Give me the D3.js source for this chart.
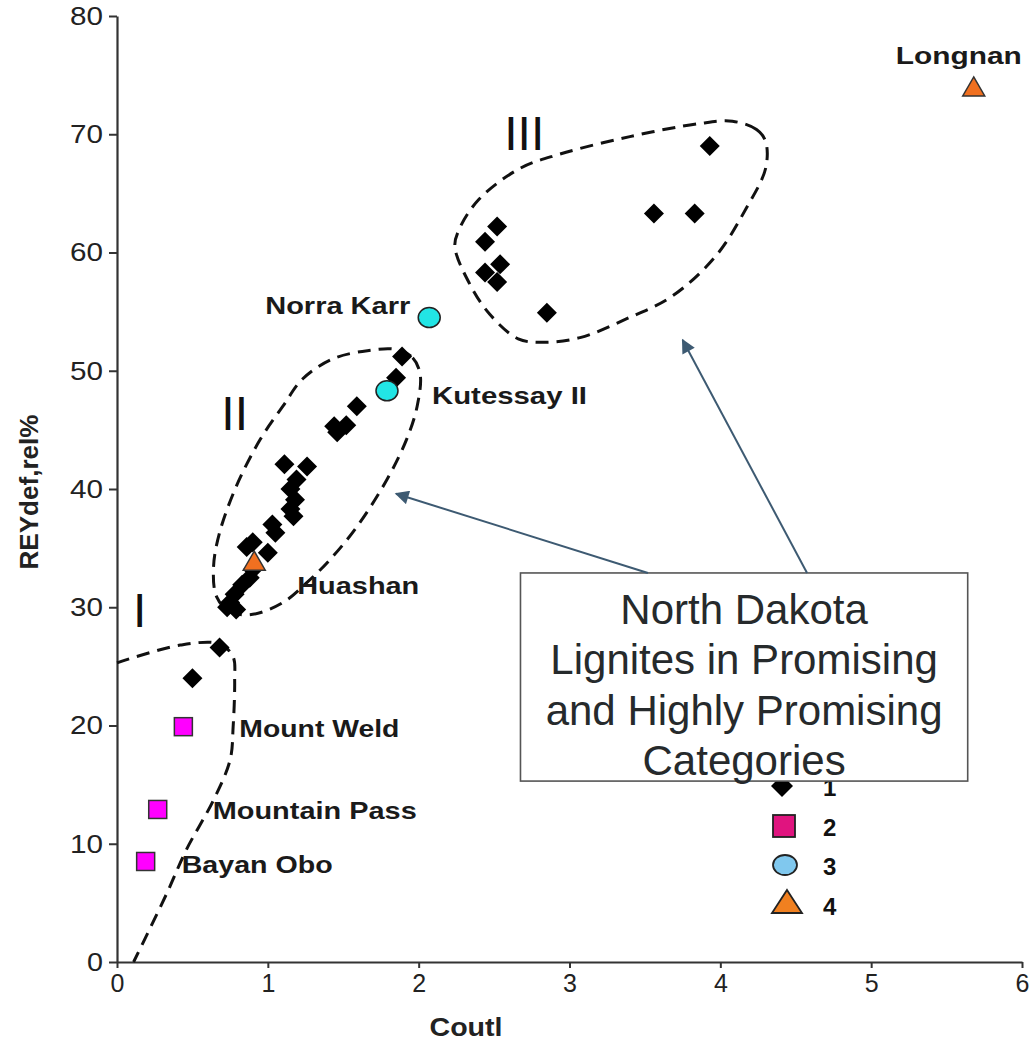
<!DOCTYPE html>
<html><head><meta charset="utf-8">
<script src="https://cdn.jsdelivr.net/npm/d3@7"></script>
<style>body{margin:0;background:#fff}svg{display:block}text{font-family:"Liberation Sans",Arial,sans-serif}</style>
</head><body><svg id="c" width="1035" height="1042"></svg>
<script>
// ---- data ----
const xTicks = [0,1,2,3,4,5,6];
const yTicks = [0,10,20,30,40,50,60,70,80];
// group 1: North Dakota lignites (diamonds)
const lignX = [3.93,3.56,3.83,2.44,2.52,2.44,2.54,2.52,2.85,
  1.89,1.85,1.59,1.52,1.46,1.44,1.11,1.26,1.19,1.15,1.18,1.15,1.17,1.03,1.05,0.90,0.86,1.00,0.90,0.88,0.83,0.78,0.75,0.79,0.73,
  0.68,0.50];
const lignY = [69.0,63.3,63.3,60.9,62.2,58.3,59.0,57.5,54.9,
  51.2,49.4,47.0,45.4,44.8,45.3,42.1,41.9,40.8,40.0,39.1,38.3,37.7,37.0,36.3,35.5,35.1,34.6,33.2,32.5,31.9,31.1,30.4,29.8,30.0,
  26.6,24.0];
// group 2: squares
const sqNames = ["Mount Weld","Mountain Pass","Bayan Obo"];
const sqX = [0.44,0.27,0.19];
const sqY = [19.9,12.9,8.5];
// group 3: circles
const ciNames = ["Norra Karr","Kutessay II"];
const ciX = [2.07,1.79];
const ciY = [54.5,48.3];
// group 4: triangles
const trNames = ["Longnan","Huashan"];
const trX = [5.68,0.91];
const trY = [74.0,33.9];
// field outlines (data units)
const regIx = [0.0,0.42,0.68,0.77,0.78,0.77,0.75,0.64,0.46,0.33,0.11];
const regIy = [25.3,26.8,26.9,25.8,23.9,19.9,17.1,13.7,9.5,5.8,0];
const regIIx = [1.85,1.96,2.01,1.99,1.92,1.79,1.59,1.41,1.26,1.10,0.90,0.75,0.66,0.64,0.68,0.79,0.95,1.10,1.23,1.43,1.66];
const regIIy = [51.8,51.1,49.7,47.0,44.2,40.8,36.8,34.0,32.1,30.4,29.4,29.6,30.9,33.4,36.3,40.2,44.2,47.0,49.3,51.0,51.7];
const regIIIx = [4.08,4.24,4.30,4.30,4.17,3.97,3.68,3.38,3.07,2.83,2.66,2.47,2.34,2.24,2.27,2.40,2.67,2.93,3.40,3.86];
const regIIIy = [71.1,70.4,69.4,67.1,63.7,59.7,56.3,54.4,52.8,52.4,52.7,54.8,57.3,60.5,62.0,64.5,67.1,68.3,69.8,70.9];
const romanLabels = ["I","II","III"];
const romanX = [0.15,0.78,2.7];
const romanY = [28.3,45.0,68.7];
const legendLabels = ["1","2","3","4"];
const boxLines = ["North Dakota","Lignites in Promising","and Highly Promising","Categories"];

// ---- scales ----
const svg = d3.select("#c");
const x = d3.scaleLinear().domain([0,6]).range([117,1022]);
const y = d3.scaleLinear().domain([0,80]).range([962,16]);

// axes
const xAx = svg.append("g").attr("transform","translate(0,962)")
  .call(d3.axisBottom(x).tickValues(xTicks).tickFormat(d3.format("d")).tickSize(6).tickSizeOuter(0).tickPadding(6));
xAx.selectAll("text").attr("font-size",25).attr("fill","#222").attr("font-family","Liberation Sans, Arial");
const yAx = svg.append("g").attr("transform","translate(117,0)")
  .call(d3.axisLeft(y).tickValues(yTicks).tickSize(8).tickSizeOuter(0).tickPadding(6));
yAx.selectAll("text").attr("font-size",26).attr("fill","#222").attr("font-family","Liberation Sans, Arial")
  .attr("textLength",d=>d>=10?33:16).attr("lengthAdjust","spacingAndGlyphs");
svg.selectAll(".domain").attr("stroke","#333").attr("stroke-width",2.2);
svg.selectAll(".tick line").attr("stroke","#333").attr("stroke-width",2);

svg.append("text").attr("x",466).attr("y",1036).attr("text-anchor","middle")
  .attr("font-size",25).attr("font-weight","bold").attr("fill","#222")
  .attr("textLength",73).attr("lengthAdjust","spacingAndGlyphs").text("Coutl");
svg.append("text").attr("transform","translate(38,492) rotate(-90)").attr("text-anchor","middle")
  .attr("font-size",25).attr("font-weight","bold").attr("fill","#222")
  .attr("textLength",155).attr("lengthAdjust","spacingAndGlyphs").text("REYdef,rel%");

// outlines
const dash = "13,8";
function outline(xs,ys,curve){
  const pts = xs.map((v,i)=>[x(v),y(ys[i])]);
  svg.append("path").attr("d",d3.line().curve(curve)(pts))
    .attr("fill","none").attr("stroke","#111").attr("stroke-width",3).attr("stroke-dasharray",dash);
}
outline(regIx,regIy,d3.curveCatmullRom.alpha(0.5));
outline(regIIx,regIIy,d3.curveCatmullRomClosed.alpha(0.5));
outline(regIIIx,regIIIy,d3.curveCatmullRomClosed.alpha(0.5));

// roman numerals
svg.selectAll(".rom").data(romanLabels).join("text")
  .attr("x",(d,i)=>x(romanX[i])).attr("y",(d,i)=>y(romanY[i]))
  .attr("text-anchor","middle").attr("font-size",48).attr("fill","#111").text(d=>d);

// symbols
const diamond = s => `M0,${-s}L${s},0L0,${s}L${-s},0Z`;
svg.selectAll(".dia").data(lignX).join("path")
  .attr("transform",(d,i)=>`translate(${x(d)},${y(lignY[i])})`)
  .attr("d",diamond(10)).attr("fill","#000");
svg.selectAll(".sq").data(sqX).join("rect")
  .attr("x",(d,i)=>x(d)-9).attr("y",(d,i)=>y(sqY[i])-9).attr("width",18).attr("height",18)
  .attr("fill","#ff00ff").attr("stroke","#333").attr("stroke-width",1.5);
svg.selectAll(".ci").data(ciX).join("ellipse")
  .attr("cx",d=>x(d)).attr("cy",(d,i)=>y(ciY[i])).attr("rx",11).attr("ry",10)
  .attr("fill","#22e5e5").attr("stroke","#222").attr("stroke-width",1.5);
const tri = "M0,-10L11,9L-11,9Z";
svg.selectAll(".tr").data(trX).join("path")
  .attr("transform",(d,i)=>`translate(${x(d)},${y(trY[i])})`)
  .attr("d",tri).attr("fill","#f07020").attr("stroke","#333").attr("stroke-width",1.5);

// point labels
function label(txt,px,py,len,anchor){
  svg.append("text").attr("x",px).attr("y",py).attr("text-anchor",anchor||"start")
    .attr("font-size",24).attr("font-weight","bold").attr("fill","#1a1a1a")
    .attr("textLength",len).attr("lengthAdjust","spacingAndGlyphs").text(txt);
}
label(trNames[0],x(trX[0])-78,y(trY[0])-23,126);
label(trNames[1],x(trX[1])+43,y(trY[1])+33,122);
label(ciNames[0],x(ciX[0])-164,y(ciY[0])-4,145);
label(ciNames[1],x(ciX[1])+45,y(ciY[1])+13,155);
label(sqNames[0],x(sqX[0])+56,y(sqY[0])+10,160);
label(sqNames[1],x(sqX[1])+55,y(sqY[1])+10,204);
label(sqNames[2],x(sqX[2])+36,y(sqY[2])+12,151);

// legend (partly hidden behind the box)
const legX = 784, legY0 = 786, legDy = 40;
const lg = svg.append("g");
lg.append("path").attr("transform",`translate(${legX-2},${legY0})`).attr("d",diamond(11)).attr("fill","#000");
lg.append("rect").attr("x",legX-11).attr("y",legY0+legDy-11).attr("width",22).attr("height",22)
  .attr("fill","#e0147f").attr("stroke","#222").attr("stroke-width",1.8);
lg.append("ellipse").attr("cx",legX+1).attr("cy",legY0+2*legDy-1).attr("rx",12).attr("ry",10)
  .attr("fill","#80c8ee").attr("stroke","#222").attr("stroke-width",1.8);
lg.append("path").attr("transform",`translate(${legX+3},${legY0+3*legDy-4})`).attr("d","M0,-12L15,11L-15,11Z")
  .attr("fill","#f08020").attr("stroke","#222").attr("stroke-width",1.8);
lg.selectAll("text").data(legendLabels).join("text")
  .attr("x",823).attr("y",(d,i)=>legY0+10+i*legDy-(i>1?1:0)).attr("font-size",24).attr("font-weight","bold")
  .attr("fill","#111").text(d=>d);

// annotation box
const boxX0 = 2.675, boxX1 = 5.64, boxYTop = 32.9, boxYBot = 15.3;
svg.append("rect").attr("x",x(boxX0)).attr("y",y(boxYTop))
  .attr("width",x(boxX1)-x(boxX0)).attr("height",y(boxYBot)-y(boxYTop))
  .attr("fill","#fff").attr("stroke","#555").attr("stroke-width",1.6);
svg.selectAll(".bl").data(boxLines).join("text")
  .attr("x",(x(boxX0)+x(boxX1))/2).attr("y",(d,i)=>y(boxYTop)+51+i*50.5)
  .attr("text-anchor","middle").attr("font-size",42).attr("fill","#262a2c").text(d=>d);

// arrows
const defs = svg.append("defs");
defs.append("marker").attr("id","ah").attr("viewBox","0 0 10 10").attr("refX",9).attr("refY",5)
  .attr("markerWidth",8).attr("markerHeight",7).attr("orient","auto").attr("markerUnits","strokeWidth")
  .append("path").attr("d","M0,0L10,5L0,10Z").attr("fill","#3d5a72");
const arrFromX = [3.52,4.575], arrFromY = [32.9,32.9];
const arrToX = [1.85,3.75], arrToY = [39.6,52.6];
arrFromX.forEach((v,i)=>{
  svg.append("line").attr("x1",x(v)).attr("y1",y(arrFromY[i])).attr("x2",x(arrToX[i])).attr("y2",y(arrToY[i]))
    .attr("stroke","#3d5a72").attr("stroke-width",2).attr("marker-end","url(#ah)");
});
</script></body></html>
